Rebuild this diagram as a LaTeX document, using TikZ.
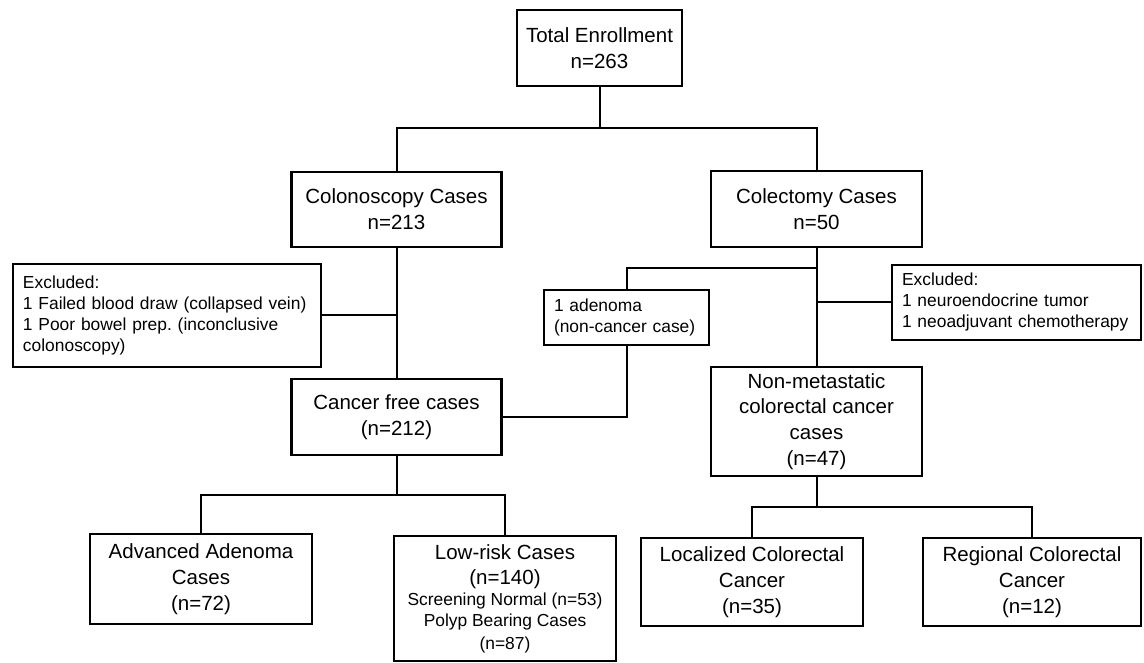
\documentclass[tikz,border=0pt]{standalone}
\usepackage{fontspec}
\setmainfont{Liberation Sans}
\usepackage{tikz}
\usetikzlibrary{calc}
\newcommand{\mainsz}{\fontsize{20.5}{25.7}\selectfont}
\newcommand{\notesz}{\fontsize{17.4}{21}\selectfont}

\begin{document}
\begin{tikzpicture}[
    x=1pt, y=-1pt,
    cfbox/.style={draw, line width=2.2pt, inner sep=0pt, align=center, font=\mainsz},
    cfnote/.style={draw, line width=1.8pt, inner xsep=10pt, inner ysep=0pt,
                   align=left, font=\notesz},
    cflink/.style={line width=2pt}
  ]
    \useasboundingbox (0,0) rectangle (1144,663);

    \node[cfbox, minimum width=165pt, minimum height=76pt] (total) at (599.5,48)
      {Total Enrollment\\n=263};
    \node[cfbox, minimum width=210pt, minimum height=75pt] (colon) at (396.5,209.5)
      {Colonoscopy Cases\\n=213};
    \node[cfbox, minimum width=211pt, minimum height=76pt] (colect) at (816.5,209)
      {Colectomy Cases\\n=50};

    \node[cfnote, text width=288pt, minimum height=103pt] (excl1) at (167,315.5)
      {Excluded:\\1 Failed blood draw (collapsed vein)\\1 Poor bowel prep.\ (inconclusive\\colonoscopy)};
    \node[cfnote, text width=145pt, minimum height=55pt] (aden) at (626.5,317.5)
      {1 adenoma\\(non-cancer case)};
    \node[cfnote, text width=229pt, minimum height=75pt] (excl2) at (1016.5,302.5)
      {Excluded:\\1 neuroendocrine tumor\\1 neoadjuvant chemotherapy};

    \node[cfbox, minimum width=210pt, minimum height=76pt] (cfree) at (396.5,417)
      {Cancer free cases\\(n=212)};
    \node[cfbox, minimum width=211pt, minimum height=109pt] (nonmet) at (816.5,421.5)
      {Non-metastatic\\colorectal cancer\\cases\\(n=47)};

    \node[cfbox, minimum width=222pt, minimum height=90pt] (adv) at (201,579)
      {Advanced Adenoma\\Cases\\(n=72)};
    \node[cfbox, minimum width=222pt, minimum height=125pt] (lowrisk) at (505,598.5)
      {Low-risk Cases\\(n=140)\\[-4.7pt]{\notesz Screening Normal (n=53)}\\[-4.7pt]%
       {\notesz Polyp Bearing Cases}\\[-3.5pt]{\notesz (n=87)}};
    \node[cfbox, minimum width=222pt, minimum height=88pt] (local) at (752,582)
      {Localized Colorectal\\Cancer\\(n=35)};
    \node[cfbox, minimum width=218pt, minimum height=88pt] (region) at (1032,582)
      {Regional Colorectal\\Cancer\\(n=12)};

    % branch points of the tree
    \coordinate (split1) at (599.5,128);
    \coordinate (split2) at (816.5,268);
    \coordinate (split3) at (396.5,495);
    \coordinate (split4) at (816.5,507);

    \draw[cflink] (total) -- (split1);
    \draw[cflink] (colon) |- (split1) -| (colect);
    \draw[cflink] (colon) -- (cfree);
    \draw[cflink] (excl1) -- (excl1 -| colon);
    \draw[cflink] (colect) -- (nonmet);
    \draw[cflink] (excl2) -- (excl2 -| colect);
    \draw[cflink] (split2) -| (aden);
    \draw[cflink] (aden) |- (cfree);
    \draw[cflink] (cfree) -- (split3);
    \draw[cflink] (adv) |- (split3) -| (lowrisk);
    \draw[cflink] (nonmet) -- (split4);
    \draw[cflink] (local) |- (split4) -| (region);
  \end{tikzpicture}
\end{document}
